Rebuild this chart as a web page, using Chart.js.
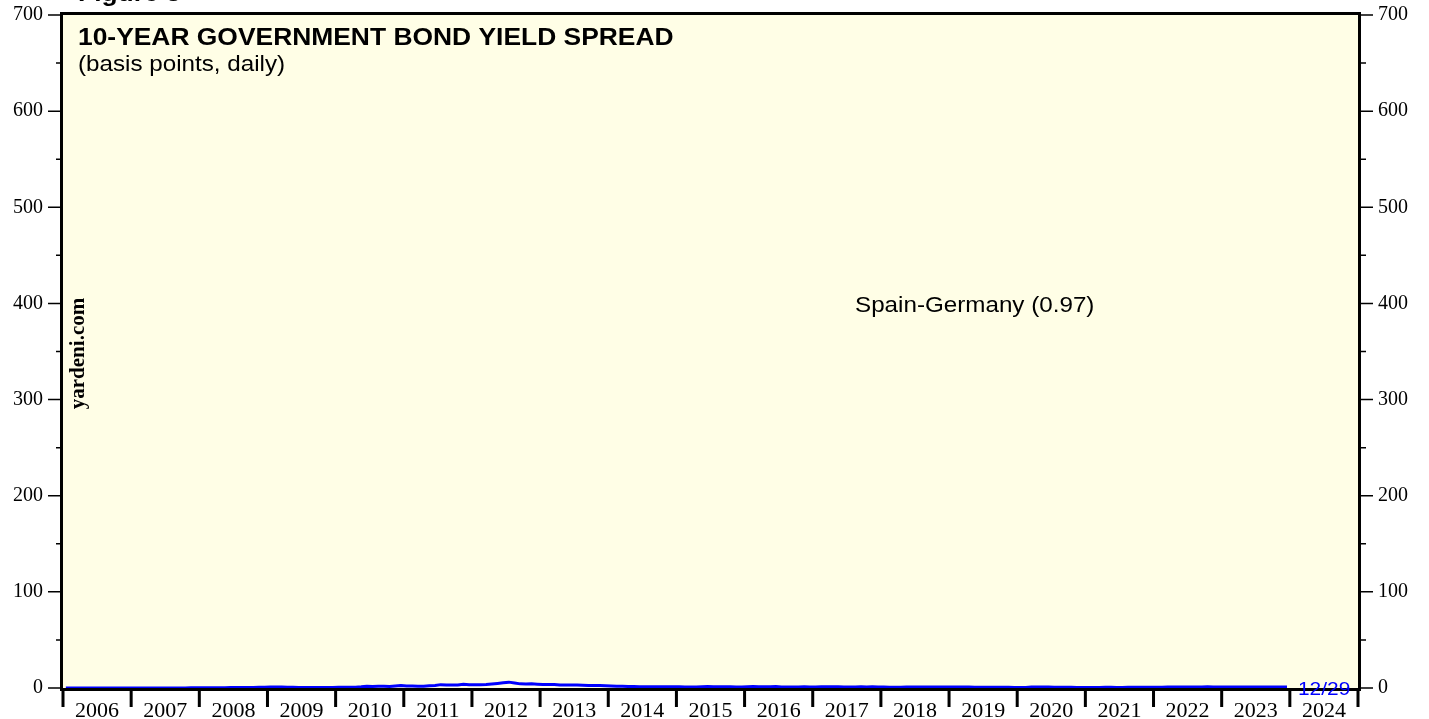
<!DOCTYPE html>
<html><head><meta charset="utf-8">
<script src="https://cdn.jsdelivr.net/npm/chart.js@4"></script>
<style>html,body{margin:0;padding:0;background:#fff;overflow:hidden}#wrap{width:1429px;height:719px;position:relative}</style>
</head><body><div id="wrap"><canvas id="c" width="1429" height="719"></canvas></div>
<script>
// ---- data ----
const firstYear = 2006;            // first month of data: Jan 2006
const axisYears = [2006, 2025];    // x-axis range (year boundaries)
const yearLabels = ['2006','2007','2008','2009','2010','2011','2012','2013','2014','2015','2016','2017','2018','2019','2020','2021','2022','2023','2024'];
const yTickLabels = [0,100,200,300,400,500,600,700];
const yMinorTicks = [50,150,250,350,450,550,650];
// Spain-Germany 10y spread (values as plotted on basis-point axis), monthly Jan 2006 .. Dec 2023
const spread2006_2009 = [
  0.03,0.03,0.03,0.03,0.03,0.03,0.04,0.04,0.04,0.04,0.04,0.04,
  0.04,0.04,0.05,0.05,0.05,0.06,0.08,0.10,0.12,0.13,0.15,0.18,
  0.25,0.30,0.35,0.35,0.35,0.40,0.45,0.50,0.55,0.60,0.80,0.90,
  1.10,1.00,1.00,0.80,0.70,0.65,0.60,0.60,0.55,0.55,0.60,0.65];
const spread2010_2013 = [
  0.75,0.90,0.75,0.90,1.30,1.90,1.60,1.70,1.80,1.60,2.20,2.50,
  2.20,2.00,1.90,1.90,2.30,2.70,3.50,3.00,3.20,3.20,3.90,3.40,
  3.30,3.30,3.60,4.20,4.80,5.50,6.10,5.30,4.30,4.20,4.30,4.00,
  3.60,3.70,3.70,3.20,3.00,3.10,3.10,2.80,2.50,2.50,2.60,2.25];
const spread2014_2017 = [
  2.00,1.85,1.70,1.55,1.50,1.40,1.25,1.20,1.25,1.30,1.30,1.20,
  1.20,1.10,0.95,1.00,1.20,1.50,1.40,1.30,1.40,1.20,1.10,1.15,
  1.30,1.45,1.25,1.35,1.35,1.45,1.00,0.95,0.95,1.05,1.20,1.15,
  1.15,1.25,1.25,1.30,1.20,1.15,1.10,1.05,1.20,1.15,1.20,1.15];
const spread2018_2023 = [
  1.00,0.85,0.75,0.70,0.95,0.95,0.95,1.05,1.00,1.15,1.15,1.15,
  1.15,1.05,0.95,0.95,0.80,0.70,0.70,0.75,0.75,0.70,0.75,0.65,
  0.65,0.65,1.10,1.05,1.00,0.95,0.80,0.80,0.75,0.70,0.65,0.62,
  0.62,0.62,0.65,0.67,0.67,0.63,0.63,0.68,0.68,0.68,0.72,0.74,
  0.72,0.90,0.95,0.95,1.05,1.15,1.10,1.15,1.15,1.20,1.05,1.05,
  1.05,1.00,1.05,1.05,1.10,1.05,1.05,1.05,1.05,1.10,1.05,0.97];
const seriesLabel = 'Spain-Germany (0.97)';
const lastDateLabel = '12/29';
const titleText = '10-YEAR GOVERNMENT BOND YIELD SPREAD';
const subtitleText = '(basis points, daily)';
const figureText = 'Figure 3';
const watermark = 'yardeni.com';

const spread = [...spread2006_2009, ...spread2010_2013, ...spread2014_2017, ...spread2018_2023];
const points = spread.map((v, i) => ({ x: firstYear + (i + 0.5) / 12, y: v }));

const SX = 1.1; // horizontal text stretch
function txt(ctx, s, x, y, font, color, align) {
  ctx.save();
  ctx.font = font; ctx.fillStyle = color; ctx.textAlign = align || 'left'; ctx.textBaseline = 'alphabetic';
  ctx.translate(x, y); ctx.scale(SX, 1); ctx.fillText(s, 0, 0);
  ctx.restore();
}

const decor = {
  id: 'decor',
  beforeDraw(chart) {
    const { ctx, chartArea: a } = chart;
    ctx.save();
    ctx.fillStyle = '#ffffff';
    ctx.fillRect(0, 0, chart.width, chart.height);
    ctx.fillStyle = '#fffee6';
    ctx.fillRect(a.left, a.top, a.right - a.left, a.bottom - a.top);
    ctx.restore();
  },
  afterDatasetsDraw(chart) {
    const { ctx, chartArea: a } = chart;
    const ys = chart.scales.y, xs = chart.scales.x;
    ctx.save();
    ctx.strokeStyle = '#000';
    // frame
    ctx.lineWidth = 3;
    ctx.strokeRect(a.left - 1.5, a.top - 1.5, a.right - a.left + 3, a.bottom - a.top + 3);
    // y ticks
    ctx.lineWidth = 1.5;
    ctx.beginPath();
    yTickLabels.forEach(v => {
      const p = ys.getPixelForValue(v);
      ctx.moveTo(a.left - 15, p); ctx.lineTo(a.left, p);
      ctx.moveTo(a.right, p); ctx.lineTo(a.right + 15, p);
    });
    yMinorTicks.forEach(v => {
      const p = ys.getPixelForValue(v);
      ctx.moveTo(a.left - 7, p); ctx.lineTo(a.left, p);
      ctx.moveTo(a.right, p); ctx.lineTo(a.right + 8, p);
    });
    ctx.stroke();
    // x ticks at year boundaries
    ctx.lineWidth = 3;
    ctx.beginPath();
    for (let yr = axisYears[0]; yr <= axisYears[1]; yr++) {
      const p = xs.getPixelForValue(yr);
      ctx.moveTo(p, a.bottom); ctx.lineTo(p, a.bottom + 19);
    }
    ctx.stroke();
    ctx.restore();
  },
  afterDraw(chart) {
    const { ctx, chartArea: a } = chart;
    const xs = chart.scales.x;
    // year labels
    yearLabels.forEach(l => {
      const p = xs.getPixelForValue(Number(l) + 0.5);
      txt(ctx, l, p, a.bottom + 29, '20px "Liberation Serif"', '#000', 'center');
    });
    txt(ctx, figureText, a.left + 15, 1, 'bold 24px "Liberation Sans", Arial', '#000');
    txt(ctx, titleText, a.left + 15, 45, 'bold 24px "Liberation Sans", Arial', '#000');
    txt(ctx, subtitleText, a.left + 15, 71, '22px "Liberation Sans", Arial', '#000');
    txt(ctx, seriesLabel, 855, 312, '22px "Liberation Sans", Arial', '#000');
    txt(ctx, lastDateLabel, a.right - 60, a.bottom + 7, '19px "Liberation Sans", Arial', '#0000ff');
    // watermark
    ctx.save();
    ctx.translate(a.left + 21, (a.top + a.bottom) / 2 + 2);
    ctx.rotate(-Math.PI / 2);
    ctx.font = 'bold 20px "Liberation Serif"';
    ctx.fillStyle = '#000'; ctx.textAlign = 'center'; ctx.textBaseline = 'alphabetic';
    ctx.scale(1.05, 1);
    ctx.fillText(watermark, 0, 0);
    ctx.restore();
  }
};

function fitY(width) {
  return function (s) { s.width = width; s.paddingTop = 0; s.paddingBottom = 0; };
}

new Chart(document.getElementById('c'), {
  type: 'line',
  data: { datasets: [{ label: seriesLabel, data: points, borderColor: '#0000ff', borderWidth: 3, pointRadius: 0, tension: 0, fill: false }] },
  options: {
    responsive: false, animation: false, devicePixelRatio: 1,
    layout: { padding: { left: 0, right: 0, top: 15, bottom: 31 } },
    plugins: { legend: { display: false }, tooltip: { enabled: false }, title: { display: false } },
    scales: {
      x: { type: 'linear', min: axisYears[0], max: axisYears[1], display: false },
      y: {
        position: 'left', min: 0, max: 700,
        afterFit: fitY(63),
        afterBuildTicks(s) { s.ticks = yTickLabels.map(v => ({ value: v })); },
        grid: { display: false, drawTicks: false }, border: { display: false },
        ticks: { padding: 20, font: { family: '"Liberation Serif"', size: 20 }, color: '#000' }
      },
      y2: {
        position: 'right', min: 0, max: 700,
        afterFit: fitY(71),
        afterBuildTicks(s) { s.ticks = yTickLabels.map(v => ({ value: v })); },
        grid: { display: false, drawTicks: false }, border: { display: false },
        ticks: { padding: 20, font: { family: '"Liberation Serif"', size: 20 }, color: '#000' }
      }
    }
  },
  plugins: [decor]
});
</script></body></html>
